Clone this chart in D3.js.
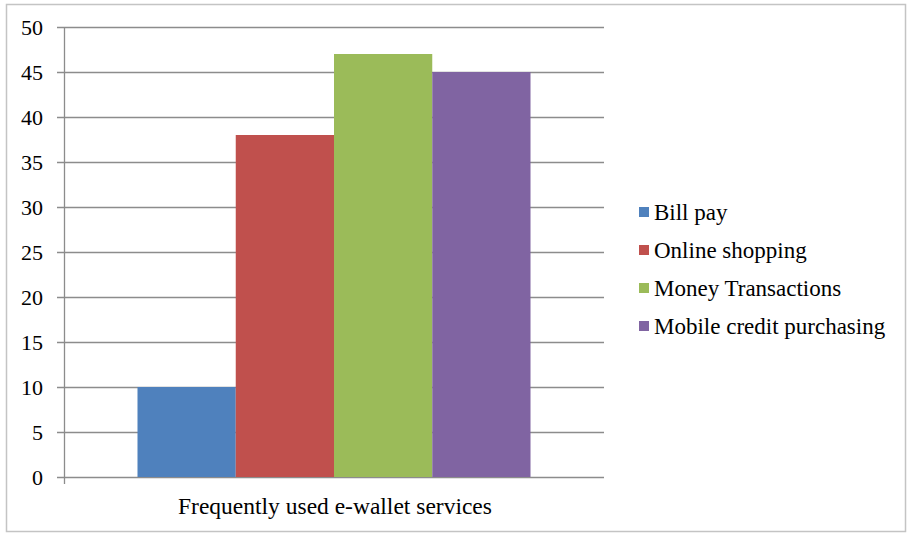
<!DOCTYPE html>
<html>
<head>
<meta charset="utf-8">
<script src="https://cdn.jsdelivr.net/npm/d3@7"></script>
<style>
  body { margin: 0; background: #fff; }
  text { font-family: "Liberation Serif", "Times New Roman", serif; fill: #000; }
</style>
</head>
<body>
<div id="chart"></div>
<script>
    // Chart data
    var category = "Frequently used e-wallet services";
    var seriesNames = ["Bill pay", "Online shopping", "Money Transactions", "Mobile credit purchasing"];
    var seriesValues = [10, 38, 47, 45];
    var seriesColors = ["#4f81bd", "#c0504d", "#9bbb59", "#8064a2"];
    var yTicks = [0, 5, 10, 15, 20, 25, 30, 35, 40, 45, 50];

    var W = 909, H = 533;
    var plot = { left: 64, right: 604, top: 27, bottom: 477 };

    var svg = d3.select("#chart")
      .append("svg")
      .attr("width", W)
      .attr("height", H);

    // Outer border
    svg.append("rect")
      .attr("x", 6.5).attr("y", 4.5)
      .attr("width", 899).attr("height", 527)
      .attr("fill", "none")
      .attr("stroke", "#c4c4c4")
      .attr("stroke-width", 1.5);

    // Scales
    var yScale = d3.scaleLinear().domain([0, 50]).range([plot.bottom, plot.top]);
    var xBand = d3.scaleBand().domain([category]).range([plot.left, plot.right]).paddingInner(0).paddingOuter(0.187);
    var xInner = d3.scaleBand().domain(seriesNames).range([xBand(category), xBand(category) + xBand.bandwidth()]).padding(0);

    // Gridlines
    svg.append("g")
      .selectAll("line")
      .data(yTicks)
      .enter()
      .append("line")
      .attr("x1", plot.left - 7)
      .attr("x2", plot.right)
      .attr("y1", function (d) { return yScale(d) + 0.5; })
      .attr("y2", function (d) { return yScale(d) + 0.5; })
      .attr("stroke", "#8c8c8c")
      .attr("stroke-width", 1.3);

    // Bars
    svg.append("g")
      .selectAll("rect")
      .data(seriesNames)
      .enter()
      .append("rect")
      .attr("x", function (d) { return xInner(d); })
      .attr("width", xInner.bandwidth())
      .attr("y", function (d, i) { return yScale(seriesValues[i]); })
      .attr("height", function (d, i) { return yScale(0) - yScale(seriesValues[i]); })
      .attr("fill", function (d, i) { return seriesColors[i]; });

    // Y axis
    var yAxis = d3.axisLeft(yScale).tickValues(yTicks).tickSize(0).tickPadding(21);
    var yg = svg.append("g")
      .attr("transform", "translate(" + plot.left + ",0)")
      .call(yAxis);
    yg.select(".domain").remove();
    yg.selectAll("text")
      .attr("font-size", 22)
      .attr("font-family", "Liberation Serif, serif")
      .attr("dy", "0.32em");

    svg.append("line")
      .attr("x1", plot.left + 0.5).attr("x2", plot.left + 0.5)
      .attr("y1", plot.top).attr("y2", plot.bottom + 7)
      .attr("stroke", "#8c8c8c")
      .attr("stroke-width", 1.3);

    // X axis label
    svg.append("text")
      .attr("x", 335)
      .attr("y", 514)
      .attr("text-anchor", "middle")
      .attr("font-size", 23.5)
      .text(category);

    // Legend
    var legend = svg.append("g")
      .selectAll("g")
      .data(seriesNames)
      .enter()
      .append("g")
      .attr("transform", function (d, i) { return "translate(639," + (212 + i * 38) + ")"; });

    legend.append("rect")
      .attr("x", 0).attr("y", -5)
      .attr("width", 10).attr("height", 10)
      .attr("fill", function (d, i) { return seriesColors[i]; });

    legend.append("text")
      .attr("x", 15)
      .attr("y", 0)
      .attr("dy", "0.33em")
      .attr("font-size", 23)
      .text(function (d) { return d; });
</script>
</body>
</html>
